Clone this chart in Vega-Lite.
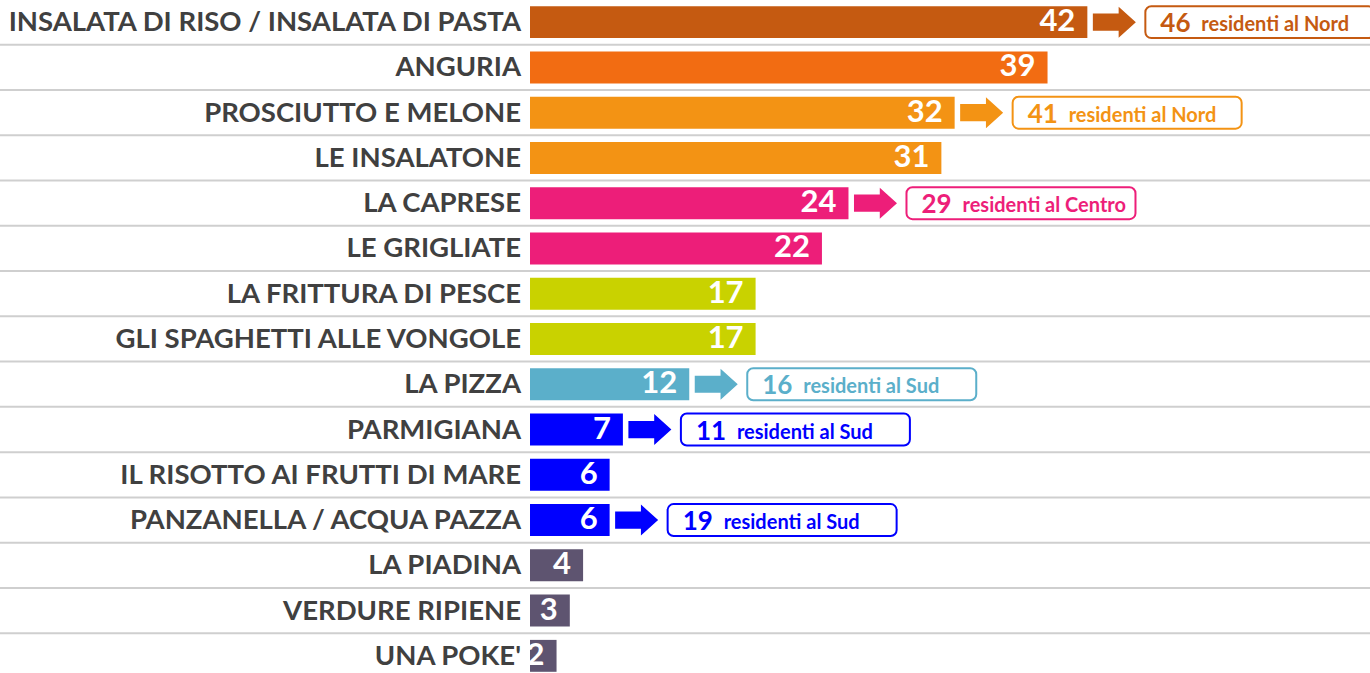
{
  "$schema": "https://vega.github.io/schema/vega-lite/v6.json",
  "width": 1370,
  "height": 678,
  "autosize": {"type": "none"},
  "padding": 0,
  "background": "white",
  "config": {"view": {"stroke": null}},
  "data": {
    "values": [
      {"label": "INSALATA DI RISO / INSALATA DI PASTA", "value": 42, "annVal": 46, "annText": "residenti al Nord"},
      {"label": "ANGURIA", "value": 39},
      {"label": "PROSCIUTTO E MELONE", "value": 32, "annVal": 41, "annText": "residenti al Nord"},
      {"label": "LE INSALATONE", "value": 31},
      {"label": "LA CAPRESE", "value": 24, "annVal": 29, "annText": "residenti al Centro"},
      {"label": "LE GRIGLIATE", "value": 22},
      {"label": "LA FRITTURA DI PESCE", "value": 17},
      {"label": "GLI SPAGHETTI ALLE VONGOLE", "value": 17},
      {"label": "LA PIZZA", "value": 12, "annVal": 16, "annText": "residenti al Sud"},
      {"label": "PARMIGIANA", "value": 7, "annVal": 11, "annText": "residenti al Sud"},
      {"label": "IL RISOTTO AI FRUTTI DI MARE", "value": 6},
      {"label": "PANZANELLA / ACQUA PAZZA", "value": 6, "annVal": 19, "annText": "residenti al Sud"},
      {"label": "LA PIADINA", "value": 4},
      {"label": "VERDURE RIPIENE", "value": 3},
      {"label": "UNA POKE'", "value": 2}
    ]
  },
  "encoding": {
    "y": {
      "field": "label",
      "type": "nominal",
      "sort": null,
      "axis": null,
      "scale": {"paddingInner": 0.295, "paddingOuter": 0.137}
    }
  },
  "layer": [
    {
      "mark": {"type": "rule", "color": "#CFCFCF", "strokeWidth": 2, "yOffset": 22.6},
      "encoding": {}
    },
    {
      "mark": {"type": "bar"},
      "encoding": {
        "x": {"field": "value", "type": "quantitative", "scale": {"domain": [-39.94, 63.3], "nice": false, "zero": false}, "axis": null},
        "x2": {"datum": 0},
        "color": {
          "field": "label",
          "type": "nominal",
          "legend": null,
          "scale": {
            "domain": ["INSALATA DI RISO / INSALATA DI PASTA", "ANGURIA", "PROSCIUTTO E MELONE", "LE INSALATONE", "LA CAPRESE", "LE GRIGLIATE", "LA FRITTURA DI PESCE", "GLI SPAGHETTI ALLE VONGOLE", "LA PIZZA", "PARMIGIANA", "IL RISOTTO AI FRUTTI DI MARE", "PANZANELLA / ACQUA PAZZA", "LA PIADINA", "VERDURE RIPIENE", "UNA POKE'"],
            "range": ["#C55A11", "#F26C12", "#F39314", "#F39314", "#ED1E79", "#ED1E79", "#C9D200", "#C9D200", "#5BAFCA", "#0000FF", "#0000FF", "#0000FF", "#5E5470", "#5E5470", "#5E5470"]
          }
        }
      }
    },
    {
      "mark": {"type": "text", "align": "right", "baseline": "middle", "dx": -9, "dy": 1, "font": "Lato", "fontWeight": "bold", "fontSize": 27.5, "color": "#404040"},
      "encoding": {
        "x": {"datum": 0, "type": "quantitative"},
        "text": {"field": "label"}
      }
    },
    {
      "mark": {"type": "text", "align": "right", "baseline": "middle", "dx": -12, "dy": 0, "font": "Lato", "fontWeight": "bold", "fontSize": 31, "color": "white"},
      "encoding": {
        "x": {"field": "value", "type": "quantitative"},
        "text": {"field": "value"}
      }
    },
    {
      "transform": [{"filter": "datum.annVal != null"}],
      "layer": [
        {
          "mark": {"type": "point", "filled": true, "opacity": 1, "size": 1849, "xOffset": 27, "shape": "M-1,-0.4 L0.2,-0.4 L0.2,-0.72 L1,0 L0.2,0.72 L0.2,0.4 L-1,0.4 Z"},
          "encoding": {
            "x": {"field": "value", "type": "quantitative"},
            "color": {"field": "label", "type": "nominal", "legend": null}
          }
        },
        {
          "mark": {"type": "bar", "fill": "white", "strokeWidth": 2, "cornerRadius": 6, "xOffset": 58, "x2Offset": 287},
          "encoding": {
            "x": {"field": "value", "type": "quantitative"},
            "x2": {"field": "value"},
            "stroke": {"field": "label", "type": "nominal", "legend": null, "scale": {"domain": ["INSALATA DI RISO / INSALATA DI PASTA", "ANGURIA", "PROSCIUTTO E MELONE", "LE INSALATONE", "LA CAPRESE", "LE GRIGLIATE", "LA FRITTURA DI PESCE", "GLI SPAGHETTI ALLE VONGOLE", "LA PIZZA", "PARMIGIANA", "IL RISOTTO AI FRUTTI DI MARE", "PANZANELLA / ACQUA PAZZA", "LA PIADINA", "VERDURE RIPIENE", "UNA POKE'"],
            "range": ["#C55A11", "#F26C12", "#F39314", "#F39314", "#ED1E79", "#ED1E79", "#C9D200", "#C9D200", "#5BAFCA", "#0000FF", "#0000FF", "#0000FF", "#5E5470", "#5E5470", "#5E5470"]}}
          }
        },
        {
          "mark": {"type": "text", "align": "left", "baseline": "middle", "dx": 73, "dy": 2, "font": "Lato", "fontWeight": "bold", "fontSize": 26},
          "encoding": {
            "x": {"field": "value", "type": "quantitative"},
            "text": {"field": "annVal"},
            "color": {"field": "label", "type": "nominal", "legend": null}
          }
        },
        {
          "mark": {"type": "text", "align": "left", "baseline": "middle", "dx": 114, "dy": 3, "font": "Lato", "fontWeight": "bold", "fontSize": 20},
          "encoding": {
            "x": {"field": "value", "type": "quantitative"},
            "text": {"field": "annText"},
            "color": {"field": "label", "type": "nominal", "legend": null}
          }
        }
      ]
    }
  ]
}
